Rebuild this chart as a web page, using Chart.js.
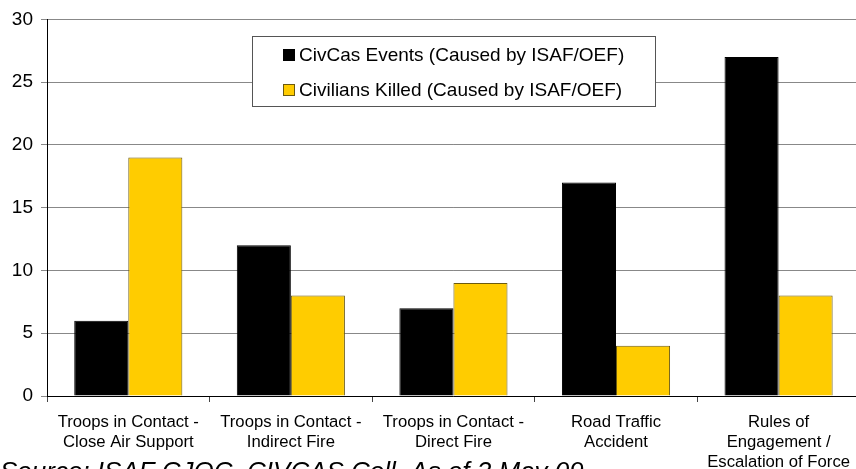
<!DOCTYPE html>
<html>
<head>
<meta charset="utf-8">
<script src="https://cdn.jsdelivr.net/npm/chart.js@4"></script>
<style>
    html, body { margin: 0; padding: 0; background: #fff; overflow: hidden; }
    #wrap { width: 860px; height: 469px; position: relative; }
</style>
</head>
<body>
<div id="wrap"><canvas id="civcasChart"></canvas></div>
<script>
// Data
const categories = [
    ['Troops in Contact -', 'Close Air Support'],
    ['Troops in Contact -', 'Indirect Fire'],
    ['Troops in Contact -', 'Direct Fire'],
    ['Road Traffic', 'Accident'],
    ['Rules of', 'Engagement /', 'Escalation of Force']
];
const civcasEvents = [6, 12, 7, 17, 27];
const civiliansKilled = [19, 8, 9, 4, 8];
const seriesNames = ['CivCas Events (Caused by ISAF/OEF)', 'Civilians Killed (Caused by ISAF/OEF)'];
const yTicks = [0, 5, 10, 15, 20, 25, 30];
const sourceNote = 'Source: ISAF CJOC, CIVCAS Cell, As of 3 May 09';

const FONT = '"Liberation Sans", Arial, sans-serif';

// Legend box drawn inside the plot (covers the gridline behind it)
const boxLegend = {
    id: 'boxLegend',
    afterDatasetsDraw(chart) {
        const ctx = chart.ctx;
        const x = 252.5, y = 36.5, w = 403, h = 70;
        ctx.save();
        ctx.fillStyle = '#fff';
        ctx.fillRect(x, y, w, h);
        ctx.strokeStyle = '#555';
        ctx.lineWidth = 1;
        ctx.strokeRect(x, y, w, h);

        const rows = [55, 90];
        ctx.font = '19px ' + FONT;
        ctx.textBaseline = 'middle';
        ctx.textAlign = 'left';
        chart.data.datasets.forEach((ds, i) => {
            ctx.fillStyle = ds.backgroundColor;
            ctx.fillRect(283, rows[i] - 6, 12, 12);
            ctx.strokeStyle = ds.borderColor;
            ctx.strokeRect(283.5, rows[i] - 5.5, 11, 11);
            ctx.fillStyle = '#000';
            ctx.fillText(ds.label, 299, rows[i] + 1);
        });
        ctx.restore();
    }
};

// Source note at the bottom-left
const sourceText = {
    id: 'sourceText',
    afterDraw(chart) {
        const ctx = chart.ctx;
        ctx.save();
        ctx.font = 'italic 26px ' + FONT;
        ctx.fillStyle = '#000';
        ctx.textBaseline = 'alphabetic';
        ctx.textAlign = 'left';
        ctx.fillText(sourceNote, 0, 480);
        ctx.restore();
    }
};

new Chart(document.getElementById('civcasChart'), {
    type: 'bar',
    data: {
        labels: categories,
        datasets: [{
            label: seriesNames[0],
            data: civcasEvents,
            backgroundColor: '#000000',
            borderColor: '#000000',
            borderWidth: 1
        }, {
            label: seriesNames[1],
            data: civiliansKilled,
            backgroundColor: '#FFCC00',
            borderColor: '#6b5a10',
            borderWidth: 1
        }]
    },
    options: {
        responsive: true,
        maintainAspectRatio: false,
        animation: false,
        devicePixelRatio: 1,
        categoryPercentage: 0.665,
        barPercentage: 1,
        layout: { padding: { top: 18, left: 0, right: 0, bottom: 0 } },
        plugins: {
            legend: { display: false },
            tooltip: { enabled: false }
        },
        scales: {
            x: {
                grid: {
                    offset: true,
                    drawOnChartArea: false,
                    tickLength: 6,
                    tickColor: '#444'
                },
                border: { color: '#000', width: 1 },
                ticks: {
                    color: '#000',
                    padding: 10,
                    maxRotation: 0,
                    autoSkip: false,
                    font: { family: FONT, size: 16.7, lineHeight: 1.2 }
                },
                afterFit(scale) { scale.height = 73; }
            },
            y: {
                min: 0,
                max: 30,
                afterBuildTicks(scale) { scale.ticks = yTicks.map(v => ({ value: v })); },
                grid: {
                    color: '#888',
                    tickLength: 6,
                    tickColor: '#888'
                },
                border: { color: '#000', width: 1 },
                ticks: {
                    color: '#000',
                    padding: 8,
                    font: { family: FONT, size: 19 }
                },
                afterFit(scale) { scale.width = 47; }
            }
        }
    },
    plugins: [boxLegend, sourceText]
});
</script>
</body>
</html>
